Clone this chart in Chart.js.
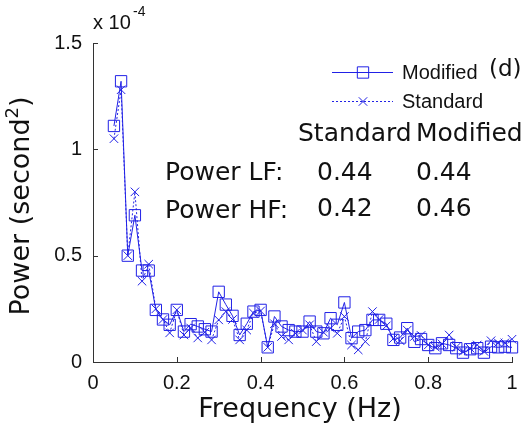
<!DOCTYPE html>
<html>
<head>
<meta charset="utf-8">
<script src="https://cdn.jsdelivr.net/npm/chart.js@4.4.0/dist/chart.umd.min.js"></script>
<style>
html, body { margin: 0; padding: 0; background: #fff; }
</style>
</head>
<body>
<canvas id="powerChart" width="530" height="441"></canvas>
<script>
// frequency bins (Hz)
let freqs = [0.05, 0.067, 0.083, 0.1, 0.117, 0.133, 0.15, 0.167, 0.183, 0.2,
    0.217, 0.233, 0.25, 0.267, 0.283, 0.3, 0.317, 0.333, 0.35, 0.367,
    0.383, 0.4, 0.417, 0.433, 0.45, 0.467, 0.483, 0.5, 0.517, 0.533,
    0.55, 0.567, 0.583, 0.6, 0.617, 0.633, 0.65, 0.667, 0.683, 0.7,
    0.717, 0.733, 0.75, 0.767, 0.783, 0.8, 0.817, 0.833, 0.85, 0.867,
    0.883, 0.9, 0.917, 0.933, 0.95, 0.967, 0.983, 1.0];

// power, in units of 1e-4 second^2
let modifiedPower = [1.11, 1.32, 0.50, 0.69, 0.43, 0.43, 0.245, 0.20, 0.175, 0.245,
    0.143, 0.178, 0.167, 0.154, 0.143, 0.33, 0.27, 0.217, 0.127, 0.18,
    0.237, 0.245, 0.069, 0.214, 0.167, 0.15, 0.143, 0.143, 0.19, 0.143,
    0.135, 0.206, 0.175, 0.28, 0.112, 0.143, 0.15, 0.198, 0.198, 0.18,
    0.104, 0.115, 0.159, 0.095, 0.108, 0.08, 0.065, 0.088, 0.08, 0.065,
    0.044, 0.06, 0.065, 0.044, 0.072, 0.069, 0.072, 0.069];

let standardPower = [1.05, 1.28, 0.50, 0.80, 0.38, 0.46, 0.25, 0.20, 0.137, 0.245,
    0.127, 0.16, 0.113, 0.14, 0.104, 0.198, 0.237, 0.20, 0.104, 0.15,
    0.23, 0.24, 0.069, 0.18, 0.12, 0.104, 0.135, 0.15, 0.175, 0.096,
    0.14, 0.159, 0.135, 0.214, 0.08, 0.057, 0.096, 0.237, 0.2, 0.17,
    0.11, 0.10, 0.15, 0.12, 0.125, 0.08, 0.07, 0.085, 0.127, 0.07,
    0.05, 0.065, 0.08, 0.05, 0.1, 0.09, 0.09, 0.107];

let xTicks = [0, 0.2, 0.4, 0.6, 0.8, 1];
let yTicks = [0, 0.5, 1, 1.5];

// LF / HF power table
let tableCols = ["Standard", "Modified"];
let tableRows = ["Power LF:", "Power HF:"];
let lfValues = ["0.44", "0.44"];
let hfValues = ["0.42", "0.46"];

const blue = "#2121e6";
const tickFont = "20px 'Liberation Sans', Arial, sans-serif";
const bigFont = "25px 'DejaVu Sans', sans-serif";
const titleFont = "27px 'DejaVu Sans', sans-serif";

function pairs(ys) {
    return freqs.map(function(f, i) { return { x: f, y: ys[i] }; });
}

const decorations = {
    id: "decorations",
    afterDraw: function(chart) {
        let ctx = chart.ctx;
        let xs = chart.scales.x;
        let ys = chart.scales.y;
        let area = chart.chartArea;
        ctx.save();

        // inward tick marks
        ctx.strokeStyle = "#333";
        ctx.lineWidth = 1;
        ctx.beginPath();
        xTicks.forEach(function(v) {
            let px = Math.round(xs.getPixelForValue(v)) + 0.5;
            ctx.moveTo(px, area.bottom);
            ctx.lineTo(px, area.bottom - 5);
        });
        yTicks.forEach(function(v) {
            let py = Math.round(ys.getPixelForValue(v)) + 0.5;
            ctx.moveTo(area.left, py);
            ctx.lineTo(area.left + 5, py);
        });
        ctx.stroke();

        // exponent label
        ctx.fillStyle = "#111";
        ctx.textBaseline = "middle";
        ctx.textAlign = "left";
        ctx.font = tickFont;
        ctx.fillText("x 10", 93, 23);
        ctx.font = "14px 'Liberation Sans', Arial, sans-serif";
        ctx.fillText("-4", 133, 12);

        // axis titles
        ctx.font = titleFont;
        ctx.textAlign = "center";
        ctx.fillText("Frequency (Hz)", 300, 410);
        ctx.save();
        ctx.translate(22, 206);
        ctx.rotate(-Math.PI / 2);
        let main = "Power (second";
        let wMain = ctx.measureText(main).width;
        ctx.font = "18px 'DejaVu Sans', sans-serif";
        let wSup = ctx.measureText("2").width;
        ctx.font = titleFont;
        let wClose = ctx.measureText(")").width;
        let x0 = -(wMain + wSup + wClose) / 2;
        ctx.textAlign = "left";
        ctx.fillText(main, x0, 0);
        ctx.font = "18px 'DejaVu Sans', sans-serif";
        ctx.fillText("2", x0 + wMain, -9);
        ctx.font = titleFont;
        ctx.fillText(")", x0 + wMain + wSup, 0);
        ctx.restore();

        // legend
        let helpers = Chart.helpers;
        ctx.strokeStyle = blue;
        ctx.lineWidth = 1;
        ctx.beginPath();
        ctx.moveTo(332, 72.5);
        ctx.lineTo(393, 72.5);
        ctx.stroke();
        ctx.setLineDash([2, 2]);
        ctx.beginPath();
        ctx.moveTo(332, 101.5);
        ctx.lineTo(393, 101.5);
        ctx.stroke();
        ctx.setLineDash([]);
        ctx.fillStyle = "rgba(0,0,0,0)";
        helpers.drawPoint(ctx, { pointStyle: "rect", radius: 8, borderWidth: 1, rotation: 0 }, 363, 72.5);
        helpers.drawPoint(ctx, { pointStyle: "crossRot", radius: 6, borderWidth: 1, rotation: 0 }, 363, 101.5);
        ctx.fillStyle = "#111";
        ctx.textAlign = "left";
        ctx.font = tickFont;
        ctx.fillText("Modified", 402, 73);
        ctx.fillText("Standard", 402, 102);
        ctx.font = "23px 'DejaVu Sans', sans-serif";
        ctx.fillText("(d)", 489, 70);

        // LF / HF table
        ctx.font = bigFont;
        ctx.fillText(tableCols[0], 298, 134);
        ctx.fillText(tableCols[1], 416, 134);
        ctx.fillText(tableRows[0], 165, 173);
        ctx.fillText(lfValues[0], 317, 173);
        ctx.fillText(lfValues[1], 416, 173);
        ctx.fillText(tableRows[1], 165, 211);
        ctx.fillText(hfValues[0], 317, 209);
        ctx.fillText(hfValues[1], 416, 209);

        ctx.restore();
    }
};

let ctx = document.getElementById("powerChart").getContext("2d");
let chart = new Chart(ctx, {
    type: "line",
    data: {
        datasets: [{
            label: "Standard",
            data: pairs(standardPower),
            borderColor: blue,
            backgroundColor: "transparent",
            borderWidth: 1,
            borderDash: [2, 2],
            pointStyle: "crossRot",
            pointRadius: 6,
            pointBorderWidth: 1,
            pointBorderColor: blue,
            tension: 0,
            clip: false
        }, {
            label: "Modified",
            data: pairs(modifiedPower),
            borderColor: blue,
            backgroundColor: "transparent",
            borderWidth: 1,
            pointStyle: "rect",
            pointRadius: 8,
            pointBorderWidth: 1,
            pointBorderColor: blue,
            pointBackgroundColor: "transparent",
            tension: 0,
            clip: false
        }]
    },
    options: {
        responsive: false,
        animation: false,
        events: [],
        layout: { padding: { top: 43, right: 18, left: 0, bottom: 0 } },
        plugins: { legend: { display: false }, tooltip: { enabled: false } },
        scales: {
            x: {
                type: "linear",
                min: 0,
                max: 1,
                grid: { display: false, drawTicks: false },
                border: { display: true, color: "#333", width: 1 },
                ticks: {
                    stepSize: 0.2,
                    padding: 9,
                    maxRotation: 0,
                    autoSkip: false,
                    color: "#111",
                    font: { family: "'Liberation Sans', Arial, sans-serif", size: 20 },
                    callback: function(v) { return String(Number(v.toFixed(1))); }
                },
                afterFit: function(s) { s.height = 79; }
            },
            y: {
                min: 0,
                max: 1.5,
                grid: { display: false, drawTicks: false },
                border: { display: true, color: "#333", width: 1 },
                ticks: {
                    stepSize: 0.5,
                    padding: 11,
                    color: "#111",
                    font: { family: "'Liberation Sans', Arial, sans-serif", size: 20 },
                    callback: function(v) { return String(Number(v.toFixed(1))); }
                },
                afterFit: function(s) { s.width = 93; }
            }
        }
    },
    plugins: [decorations]
});
</script>
</body>
</html>
